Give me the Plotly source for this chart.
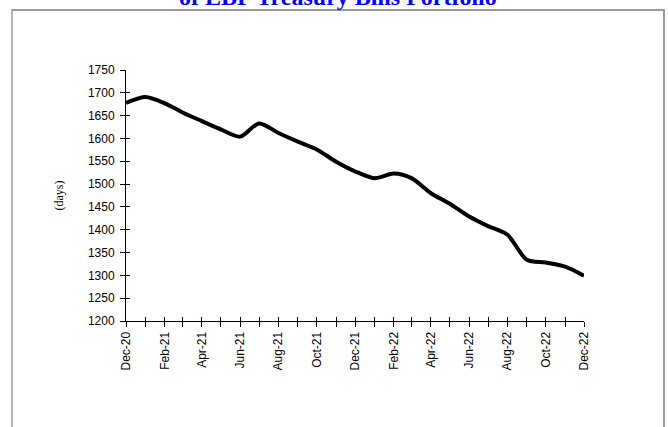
import plotly.graph_objects as go

months = ["2020-12-01", "2021-01-01", "2021-02-01", "2021-03-01", "2021-04-01",
          "2021-05-01", "2021-06-01", "2021-07-01", "2021-08-01", "2021-09-01",
          "2021-10-01", "2021-11-01", "2021-12-01", "2022-01-01", "2022-02-01",
          "2022-03-01", "2022-04-01", "2022-05-01", "2022-06-01", "2022-07-01",
          "2022-08-01", "2022-09-01", "2022-10-01", "2022-11-01", "2022-12-01"]
days = [1678, 1691, 1677, 1657, 1638, 1620, 1604, 1633, 1612, 1593,
        1576, 1549, 1528, 1513, 1523, 1513, 1480, 1457, 1429, 1408,
        1389, 1334, 1328, 1319, 1299]

title_text = "of EBF Treasury Bills Portfolio"
y_title = "(days)"

fig = go.Figure()
fig.add_trace(go.Scatter(x=months, y=days, mode="lines",
                         line=dict(color="black", width=4, shape="spline", smoothing=0.8),
                         hoverinfo="skip", showlegend=False))
# invisible trace on overlay axes so they render
fig.add_trace(go.Scatter(x=months, y=days, mode="lines", xaxis="x2", yaxis="y2",
                         line=dict(color="rgba(0,0,0,0)", width=0),
                         hoverinfo="skip", showlegend=False))

xr = ["2020-12-01", "2022-12-01"]
yr = [1200, 1750]
font_axis = dict(family="Arial, Liberation Sans, sans-serif", size=12, color="black")

fig.update_layout(
    width=668, height=427,
    margin=dict(l=126, r=84, t=70, b=106),
    paper_bgcolor="white", plot_bgcolor="white",
    xaxis=dict(type="date", range=xr, tick0="2020-12-01", dtick="M2", tickformat="%b-%y",
               tickangle=-90, ticks="outside", ticklen=5, tickcolor="black", tickwidth=1,
               minor=dict(dtick="M1", ticks="outside", ticklen=5, tickcolor="black"),
               showline=True, linecolor="black", linewidth=1, showgrid=False, zeroline=False,
               tickfont=font_axis),
    xaxis2=dict(type="date", range=xr, overlaying="x", tick0="2020-12-01", dtick="M2",
                ticks="inside", ticklen=4, tickcolor="black", showticklabels=False,
                minor=dict(dtick="M1", ticks="inside", ticklen=4, tickcolor="black"),
                showgrid=False, zeroline=False, showline=False, anchor="y2"),
    yaxis=dict(range=yr, dtick=50, ticks="outside", ticklen=5, tickcolor="black",
               showline=True, linecolor="black", linewidth=1, showgrid=False, zeroline=False,
               tickfont=font_axis, ticklabelstandoff=3,
               title=dict(text=y_title, font=dict(family="Times New Roman, Liberation Serif, serif",
                                                   size=12, color="black"), standoff=21)),
    yaxis2=dict(range=yr, dtick=50, overlaying="y", side="left", ticks="inside", ticklen=4,
                tickcolor="black", showticklabels=False, showgrid=False, zeroline=False,
                showline=False, anchor="x2"),
    shapes=[dict(type="rect", xref="paper", yref="paper", x0=-0.2489, x1=1.1747,
                 y0=-0.44, y1=1.239, line=dict(color="#b4b4b4", width=2),
                 fillcolor="rgba(0,0,0,0)", layer="below"),
            dict(type="line", xref="paper", yref="paper", x0=-0.2489, x1=1.1747,
                 y0=1.239, y1=1.239, line=dict(color="#808080", width=1), layer="below"),
            dict(type="line", xref="paper", yref="paper", x0=1.1747, x1=1.1747,
                 y0=-0.44, y1=1.239, line=dict(color="#808080", width=1), layer="below")],
    annotations=[dict(text="<b>" + title_text + "</b>", xref="paper", yref="paper",
                      x=0.463, y=1.289, xanchor="center", yanchor="middle", showarrow=False,
                      font=dict(family="Times New Roman, Liberation Serif, serif", size=24,
                                color="#0000ff"))],
)

fig.write_html("out.html", config={"displayModeBar": False},
               post_script="document.body.style.margin='0';document.body.style.padding='0';")
